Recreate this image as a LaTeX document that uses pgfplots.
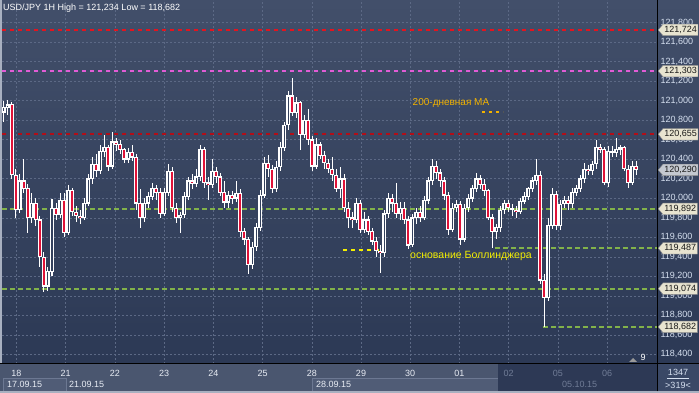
\documentclass[border=0pt]{standalone}
\usepackage{pgfplots}
\pgfplotsset{compat=1.18}
\usepackage{pgfplotstable}
\usepackage{fontspec}
\setmainfont{Liberation Sans}
\usetikzlibrary{shapes.symbols}

\definecolor{bgtop}{RGB}{66,79,106}
\definecolor{bgbot}{RGB}{44,57,85}
\definecolor{panel}{RGB}{74,86,111}
\definecolor{panelbox}{RGB}{80,92,118}
\definecolor{panelboxd}{RGB}{108,120,146}
\definecolor{paneldark}{RGB}{45,57,85}
\definecolor{boxbr}{RGB}{58,72,102}
\definecolor{strip}{RGB}{168,176,192}
\definecolor{gridc}{RGB}{92,105,133}
\definecolor{ticktxt}{RGB}{232,236,244}
\definecolor{yticktxt}{RGB}{214,224,240}
\definecolor{dimtxt}{RGB}{112,124,150}
\definecolor{redl}{RGB}{228,20,30}
\definecolor{pinkl}{RGB}{226,92,214}
\definecolor{darkredl}{RGB}{178,14,24}
\definecolor{greenl}{RGB}{130,178,74}
\definecolor{yellowl}{RGB}{245,240,0}
\definecolor{orangel}{RGB}{242,178,0}
\definecolor{bodyred}{RGB}{224,18,56}
\definecolor{bodyin}{RGB}{52,65,93}
\definecolor{boxfill}{RGB}{232,228,208}
\definecolor{boxgray}{RGB}{196,200,208}

\begin{document}
\pgfplotstableread{
x o h l c
4 120.88 121.00 120.78 120.93
8 120.93 121.01 120.85 120.96
12 120.96 120.99 120.20 120.24
16 120.24 120.30 119.80 119.88
20 119.88 120.25 119.85 120.18
24 120.18 120.40 120.05 120.10
28 120.10 120.15 119.65 119.80
32 119.80 120.05 119.75 119.95
36 119.95 120.00 119.72 119.78
40 119.78 119.82 119.30 119.40
44 119.40 119.45 119.04 119.10
48 119.10 119.30 119.05 119.25
52 119.25 119.99 119.20 119.90
56 119.90 119.95 119.78 119.83
60 119.83 120.05 119.80 119.98
64 119.98 120.05 119.60 119.65
68 119.65 120.14 119.62 120.08
72 120.08 120.10 119.82 119.86
76 119.86 119.92 119.76 119.82
80 119.82 119.88 119.74 119.80
84 119.80 120.00 119.78 119.95
88 119.95 120.25 119.92 120.20
92 120.20 120.42 120.15 120.35
96 120.35 120.45 120.22 120.28
100 120.28 120.55 120.25 120.48
104 120.48 120.65 120.42 120.52
108 120.52 120.55 120.28 120.33
112 120.33 120.68 120.30 120.58
116 120.58 120.62 120.48 120.55
120 120.55 120.60 120.45 120.50
124 120.50 120.52 120.36 120.40
128 120.40 120.52 120.36 120.47
132 120.47 120.55 120.38 120.42
136 120.42 120.45 119.88 119.95
140 119.95 120.10 119.70 119.80
144 119.80 120.00 119.76 119.95
148 119.95 120.06 119.90 120.02
152 120.02 120.16 119.98 120.10
156 120.10 120.14 119.98 120.06
160 120.06 120.10 119.80 119.84
164 119.84 120.10 119.82 120.06
168 120.06 120.35 120.02 120.28
172 120.28 120.32 119.86 119.90
176 119.90 119.95 119.75 119.80
180 119.80 119.86 119.65 119.83
184 119.83 120.06 119.80 120.02
188 120.02 120.22 119.98 120.18
192 120.18 120.25 120.10 120.15
196 120.15 120.30 120.12 120.22
200 120.22 120.55 120.18 120.50
204 120.50 120.52 120.10 120.16
208 120.16 120.22 119.98 120.14
212 120.14 120.40 120.10 120.28
216 120.28 120.32 120.16 120.22
220 120.22 120.26 120.02 120.06
224 120.06 120.18 119.90 119.96
228 119.96 120.08 119.90 120.03
232 120.03 120.08 119.94 120.00
236 120.00 120.18 119.96 120.05
240 120.05 120.10 119.60 119.66
244 119.66 119.70 119.52 119.58
248 119.58 119.60 119.22 119.32
252 119.32 119.55 119.28 119.50
256 119.50 119.75 119.46 119.70
260 119.70 120.08 119.66 120.03
264 120.03 120.42 120.00 120.36
268 120.36 120.44 120.22 120.30
272 120.30 120.34 120.05 120.10
276 120.10 120.38 120.06 120.32
280 120.32 120.58 120.28 120.52
284 120.52 120.78 120.48 120.75
288 120.75 121.10 120.70 121.05
292 121.05 121.234 120.84 120.88
296 120.88 121.04 120.82 120.98
300 120.98 121.00 120.50 120.65
304 120.65 120.85 120.62 120.80
308 120.80 120.92 120.55 120.60
312 120.60 120.64 120.28 120.33
316 120.33 120.62 120.30 120.55
320 120.55 120.58 120.40 120.44
324 120.44 120.48 120.30 120.36
328 120.36 120.40 120.26 120.30
332 120.30 120.42 120.18 120.24
336 120.24 120.30 120.06 120.10
340 120.10 120.32 120.00 120.20
344 120.20 120.25 119.86 119.90
348 119.90 119.96 119.70 119.80
352 119.80 119.86 119.70 119.78
356 119.78 120.00 119.75 119.95
360 119.95 119.98 119.65 119.68
364 119.68 119.86 119.64 119.78
368 119.78 119.82 119.62 119.66
372 119.66 119.70 119.52 119.56
376 119.56 119.60 119.40 119.46
380 119.46 119.52 119.24 119.44
384 119.44 119.88 119.40 119.84
388 119.84 120.05 119.80 120.00
392 120.00 120.04 119.86 119.95
396 119.95 120.16 119.80 119.84
400 119.84 119.96 119.78 119.90
404 119.90 119.96 119.74 119.78
408 119.78 119.82 119.48 119.52
412 119.52 119.84 119.50 119.80
416 119.80 119.90 119.74 119.86
420 119.86 119.92 119.76 119.80
424 119.80 120.02 119.78 119.98
428 119.98 120.22 119.94 120.18
432 120.18 120.40 120.14 120.33
436 120.33 120.38 120.20 120.26
440 120.26 120.30 120.12 120.18
444 120.18 120.22 119.98 120.03
448 120.03 120.06 119.62 119.68
452 119.68 119.95 119.65 119.90
456 119.90 119.98 119.86 119.94
460 119.94 119.97 119.52 119.58
464 119.58 119.94 119.55 119.90
468 119.90 120.04 119.86 120.00
472 120.00 120.14 119.96 120.10
476 120.10 120.26 120.06 120.20
480 120.20 120.24 120.10 120.14
484 120.14 120.20 120.02 120.08
488 120.08 120.10 119.78 119.80
492 119.80 119.84 119.49 119.66
496 119.66 119.74 119.58 119.70
500 119.70 119.92 119.66 119.88
504 119.88 119.98 119.84 119.95
508 119.95 119.98 119.86 119.90
512 119.90 119.94 119.82 119.88
516 119.88 119.92 119.80 119.86
520 119.86 120.00 119.84 119.97
524 119.97 120.06 119.94 120.02
528 120.02 120.12 119.98 120.10
532 120.10 120.22 120.06 120.18
536 120.18 120.40 120.14 120.24
540 120.24 120.28 119.12 119.16
544 119.16 119.22 118.682 118.98
548 118.98 119.80 118.95 119.72
552 119.72 120.10 119.68 120.04
556 120.04 120.08 119.68 119.72
560 119.72 119.98 119.68 119.94
564 119.94 120.02 119.90 119.98
568 119.98 120.02 119.88 119.94
572 119.94 120.10 119.90 120.06
576 120.06 120.14 120.02 120.10
580 120.10 120.24 120.06 120.20
584 120.20 120.36 120.16 120.30
588 120.30 120.34 120.24 120.28
592 120.28 120.38 120.24 120.35
596 120.35 120.60 120.30 120.52
600 120.52 120.56 120.46 120.50
604 120.50 120.52 120.14 120.16
608 120.16 120.54 120.12 120.48
612 120.48 120.54 120.42 120.47
616 120.47 120.62 120.42 120.50
620 120.50 120.55 120.44 120.52
624 120.52 120.54 120.28 120.30
628 120.30 120.34 120.10 120.16
632 120.16 120.38 120.14 120.33
636 120.33 120.38 120.24 120.29
}\candles
\begin{tikzpicture}
\useasboundingbox (0pt,0pt) rectangle (699pt,393pt);
% backgrounds
\shade[top color=bgtop, bottom color=bgbot] (0pt,29pt) rectangle (699pt,393pt);
\fill[panel] (0pt,0pt) rectangle (657pt,29pt);
\fill[paneldark] (498pt,0pt) rectangle (657pt,29pt);
\fill[boxbr] (657pt,0pt) rectangle (699pt,29pt);
\fill[strip] (0pt,29pt) rectangle (2pt,393pt);
\fill[panelbox] (312pt,2pt) rectangle (498pt,15pt);
\draw[panelboxd, line width=0.6pt] (312pt,2pt) -- (312pt,15pt) -- (498pt,15pt);
\fill[panelbox] (3pt,2pt) rectangle (66pt,15pt);
\draw[panelboxd, line width=0.6pt] (3pt,2pt) rectangle (66pt,15pt);
\fill[strip] (0pt,0pt) rectangle (699pt,1.6pt);

\begin{axis}[
  at={(2pt,29pt)}, anchor=south west,
  scale only axis, width=655pt, height=364pt,
  xmin=2, xmax=657, ymin=118.302, ymax=122.031,
  axis line style={draw=none},
  major tick length=0pt, tick style={draw=none},
  grid=major,
  grid style={gridc, dash pattern=on 1.6pt off 2.4pt, line width=0.5pt},
  xtick={16.5,65.7,115,164.2,213.4,262.6,311.8,361,410.2,459.4,508.6,557.8,607},
  xticklabels={18,21,22,23,24,25,28,29,30,01,\textcolor{dimtxt}{02},\textcolor{dimtxt}{05},\textcolor{dimtxt}{06}},
  xticklabel style={anchor=center, yshift=-9pt, text=ticktxt, font=\fontsize{9}{10}\selectfont},
  ytick={118.4,118.6,118.8,119.0,119.2,119.4,119.6,119.8,120.0,120.2,120.4,120.6,120.8,121.0,121.2,121.4,121.6,121.8},
  yticklabel pos=right,
  yticklabel style={anchor=west, text=yticktxt, font=\fontsize{9}{10}\selectfont,
    /pgf/number format/.cd, fixed, fixed zerofill, precision=3, use comma, 1000 sep={}, assume math mode=true},
]
% level lines
\addplot[redl, line width=1.9pt, dash pattern=on 4pt off 4pt] coordinates {(2,121.724) (657,121.724)};
\addplot[pinkl, line width=1.9pt, dash pattern=on 4pt off 4pt] coordinates {(2,121.303) (657,121.303)};
\addplot[darkredl, line width=1.9pt, dash pattern=on 4pt off 4pt] coordinates {(2,120.655) (657,120.655)};
\addplot[greenl, line width=1.9pt, dash pattern=on 5pt off 3pt] coordinates {(2,119.892) (657,119.892)};
\addplot[greenl, line width=1.9pt, dash pattern=on 5pt off 3pt] coordinates {(495,119.487) (657,119.487)};
\addplot[greenl, line width=1.9pt, dash pattern=on 5pt off 3pt] coordinates {(2,119.074) (657,119.074)};
\addplot[greenl, line width=1.9pt, dash pattern=on 5pt off 3pt] coordinates {(543,118.682) (657,118.682)};
\addplot[yellowl, line width=1.9pt, dash pattern=on 4pt off 4pt] coordinates {(343,119.47) (380,119.47)};
\addplot[orangel, line width=1.9pt, dash pattern=on 3pt off 4pt] coordinates {(482,120.88) (503,120.88)};
% wicks
\addplot[draw=none, mark=none, error bars/.cd, y dir=both, y explicit, error mark=none,
  error bar style={draw=white, solid, line width=1pt}]
  table[x=x, y expr={(\thisrow{h}+\thisrow{l})/2}, y error expr={(\thisrow{h}-\thisrow{l})/2}] {\candles};
% bodies
\addplot[draw=none, mark=none, error bars/.cd, y dir=both, y explicit, error mark=none,
  error bar style={draw=white, solid, line width=3.3pt}]
  table[x=x, y expr={(\thisrow{o}+\thisrow{c})/2}, y error expr={abs(\thisrow{o}-\thisrow{c})/2+0.004}] {\candles};
\addplot[draw=none, mark=none, restrict expr to domain={\thisrow{o}-\thisrow{c}}{0.02:10},
  error bars/.cd, y dir=both, y explicit, error mark=none,
  error bar style={draw=bodyred, solid, line width=1.3pt}]
  table[x=x, y expr={(\thisrow{o}+\thisrow{c})/2}, y error expr={(\thisrow{o}-\thisrow{c})/2-0.009}] {\candles};
\addplot[draw=none, mark=none, restrict expr to domain={\thisrow{c}-\thisrow{o}}{0.03:10},
  error bars/.cd, y dir=both, y explicit, error mark=none,
  error bar style={draw=bodyin, solid, line width=1pt}]
  table[x=x, y expr={(\thisrow{o}+\thisrow{c})/2}, y error expr={(\thisrow{c}-\thisrow{o})/2-0.009}] {\candles};
\coordinate (L1) at (axis cs:657,121.724);
\coordinate (L2) at (axis cs:657,121.303);
\coordinate (L3) at (axis cs:657,120.655);
\coordinate (L4) at (axis cs:657,120.290);
\coordinate (L5) at (axis cs:657,119.892);
\coordinate (L6) at (axis cs:657,119.487);
\coordinate (L7) at (axis cs:657,119.074);
\coordinate (L8) at (axis cs:657,118.682);
\coordinate (MA) at (axis cs:451,120.975);
\coordinate (BB) at (axis cs:471,119.41);
\end{axis}

% frame lines
\draw[black, line width=1pt] (657pt,1.6pt) -- (657pt,393pt);
\draw[black, line width=1pt] (0pt,29pt) -- (699pt,29pt);

% price boxes
\tikzset{pbox/.style={signal, signal to=west, signal pointer angle=100, draw=black!45, line width=0.4pt,
  inner xsep=1.2pt, inner ysep=2pt, text=black!90, font=\fontsize{9}{10}\selectfont, anchor=west}}
\node[pbox, fill=boxfill] at ([xshift=1pt]L1) {121,724};
\node[pbox, fill=boxfill] at ([xshift=1pt]L2) {121,303};
\node[pbox, fill=boxfill] at ([xshift=1pt]L3) {120,655};
\node[pbox, fill=boxgray] at ([xshift=1pt]L4) {120,290};
\node[pbox, fill=boxfill] at ([xshift=1pt]L5) {119,892};
\node[pbox, fill=boxfill] at ([xshift=1pt]L6) {119,487};
\node[pbox, fill=boxfill] at ([xshift=1pt]L7) {119,074};
\node[pbox, fill=boxfill] at ([xshift=1pt]L8) {118,682};

% annotations
\node[text=orangel, font=\fontsize{10}{12}\selectfont] at (MA) {200-дневная MA};
\node[text=yellowl, font=\fontsize{10.5}{12}\selectfont] at (BB) {основание Боллинджера};

% title
\node[anchor=west, text=white, font=\fontsize{9}{10}\selectfont, inner sep=0pt] at (3pt,385pt) {USD/JPY 1H High = 121,234 Low = 118,682};

% bottom row 2
\node[anchor=west, text=ticktxt, font=\fontsize{9}{10}\selectfont, inner sep=0pt] at (7pt,8.5pt) {17.09.15};
\node[anchor=west, text=ticktxt, font=\fontsize{9}{10}\selectfont, inner sep=0pt] at (69pt,8.5pt) {21.09.15};
\node[anchor=west, text=ticktxt, font=\fontsize{9}{10}\selectfont, inner sep=0pt] at (316pt,8.5pt) {28.09.15};
\node[anchor=west, text=dimtxt, font=\fontsize{9}{10}\selectfont, inner sep=0pt] at (562pt,8.5pt) {05.10.15};

% bottom right box
\node[text=yticktxt, font=\fontsize{9}{10}\selectfont] at (678pt,21pt) {1347};
\draw[yticktxt, line width=0.6pt] (667pt,15pt) -- (689pt,15pt);
\node[text=yticktxt, font=\fontsize{9}{10}\selectfont] at (678pt,8pt) {>319<};

% small marker
\fill[black!40] (629pt,31pt) -- (637pt,31pt) -- (633pt,35pt) -- cycle;
\node[text=white, font=\fontsize{9}{10}\selectfont] at (643pt,36pt) {9};
\end{tikzpicture}
\end{document}
